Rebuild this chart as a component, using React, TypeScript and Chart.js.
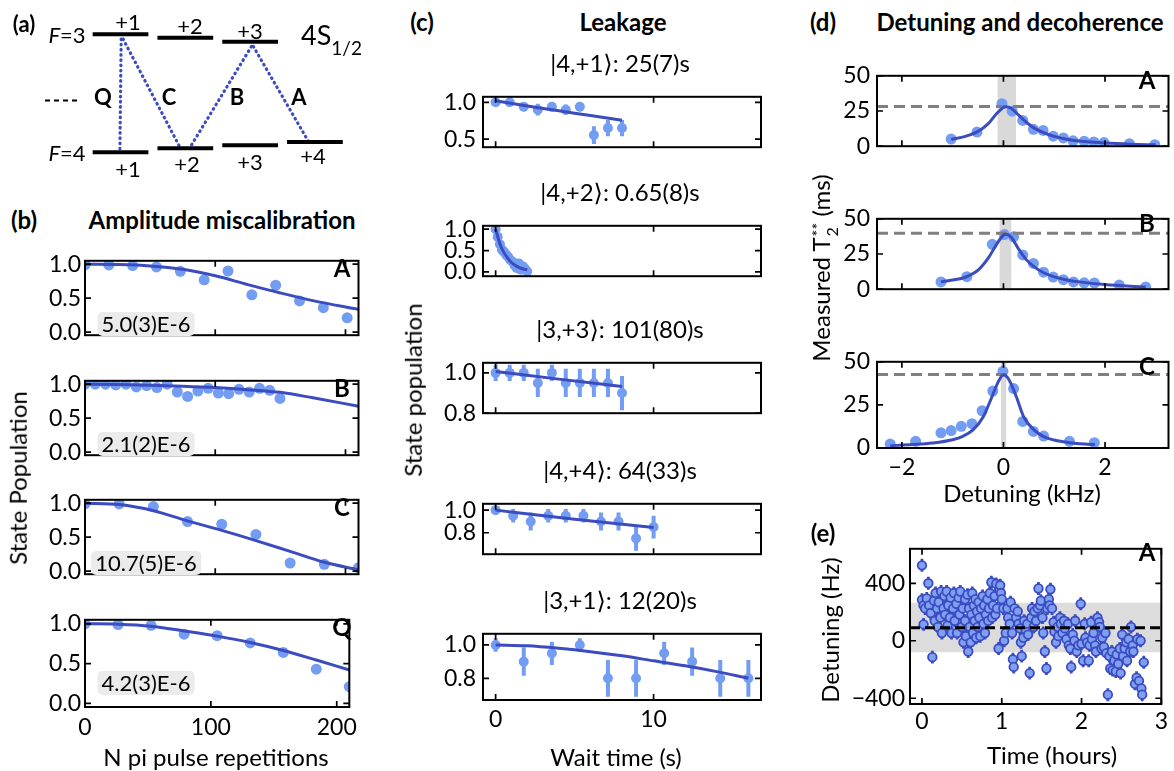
import React, { useEffect, useRef } from 'react';
import { Chart, registerables } from 'chart.js';
Chart.register(...registerables);

const FONT = 'Lato, "DejaVu Sans", sans-serif';
const LIGHT = '#739cf3';
const DARK = '#3b4cc0';
const TICK_SIZE = 23;
const LABEL_SIZE = 24;
const HEAD_SIZE = 24;

// ---------------- (a) level diagram ----------------
const F3_M = [1, 2, 3];
const F3_E = [10.0, 9.71, 9.37];
const F4_M = [1, 2, 3, 4];
const F4_E = [0.0, 0.34, 0.59, 0.87];
const TR_NAMES = ['Q', 'C', 'B', 'A'];
const TR_UP_M = [1, 1, 3, 3];
const TR_LO_M = [1, 2, 2, 4];
const TR_UP_DX = [0.01, 0.04, 0.02, 0.05];
const TR_LO_DX = [-0.01, -0.08, 0.07, -0.1];

// ---------------- (b) amplitude miscalibration ----------------
const B_XTICKS = [0, 100, 200];
const B_XLABELS = ['0', '100', '200'];
const B_YTICKS = [0, 0.5, 1.0];
const B_YLABELS = ['0.0', '0.5', '1.0'];

const BA_X = [0, 18.3, 36.6, 54.9, 73.2, 91.5, 109.8, 128.1, 146.4, 164.7, 183.0, 201.3];
const BA_Y = [0.99, 0.99, 0.98, 0.96, 0.895, 0.77, 0.9, 0.55, 0.69, 0.46, 0.36, 0.21];
const BA_FX = [0, 25, 50, 75, 100, 125, 150, 175, 210];
const BA_FY = [1.0, 0.995, 0.975, 0.925, 0.83, 0.7, 0.577, 0.464, 0.335];

const BB_X = [0, 7.9, 15.8, 23.6, 31.5, 39.4, 47.3, 55.2, 63.0, 70.9, 78.8, 86.7, 94.6, 102.4, 110.3, 118.2, 126.1, 134.0, 141.8, 149.7];
const BB_Y = [1.0, 1.0, 1.0, 0.99, 1.0, 0.96, 0.98, 0.95, 1.0, 0.885, 0.82, 0.9, 0.94, 0.87, 0.86, 0.925, 0.885, 0.94, 0.91, 0.79];
const BB_FX = [0, 25, 50, 75, 100, 125, 150, 175, 210];
const BB_FY = [1.0, 0.995, 0.985, 0.97, 0.95, 0.92, 0.88, 0.8, 0.676];

const BC_X = [0, 26.25, 52.5, 78.75, 105, 131.25, 157.5, 183.75, 210];
const BC_Y = [0.99, 0.99, 0.95, 0.73, 0.69, 0.54, 0.12, 0.1, 0.05];
const BC_FX = [0, 26.25, 52.5, 78.75, 105, 131.25, 157.5, 183.75, 210];
const BC_FY = [1.0, 0.98, 0.89, 0.74, 0.6, 0.45, 0.29, 0.13, 0.02];

const BQ_X = [0, 26.25, 52.5, 78.75, 105, 131.25, 157.5, 183.75, 210];
const BQ_Y = [1.0, 0.99, 0.98, 0.87, 0.85, 0.76, 0.64, 0.43, 0.21];
const BQ_FX = [0, 26.25, 52.5, 78.75, 105, 131.25, 157.5, 183.75, 210];
const BQ_FY = [1.0, 0.995, 0.97, 0.91, 0.845, 0.765, 0.665, 0.545, 0.42];

// ---------------- (c) leakage ----------------
const C_XTICKS = [0, 10];
const C_XLABELS = ['0', '10'];
const C_TITLES = ['|4,+1\u27E9: 25(7)s', '|4,+2\u27E9: 0.65(8)s', '|3,+3\u27E9: 101(80)s', '|4,+4\u27E9: 64(33)s', '|3,+1\u27E9: 12(20)s'];
const C_YTICKS = [[0.5, 1.0], [0.0, 0.5, 1.0], [0.8, 1.0], [0.8, 1.0], [0.8, 1.0]];
const C_YLABELS = [['0.5', '1.0'], ['0.0', '0.5', '1.0'], ['0.8', '1.0'], ['0.8', '1.0'], ['0.8', '1.0']];
const C_YMIN = [0.39, -0.1, 0.8, 0.61, 0.67];
const C_YMAX = [1.075, 1.08, 1.05, 1.056, 1.067];

const C1_X = [0, 0.89, 1.78, 2.67, 3.56, 4.44, 5.33, 6.22, 7.11, 8.0];
const C1_Y = [1.0, 1.0, 0.94, 0.9, 0.94, 0.9, 0.94, 0.555, 0.65, 0.65];
const C1_E = [0.02, 0.02, 0.06, 0.08, 0.065, 0.07, 0.06, 0.12, 0.11, 0.11];
const C1_FX = [0, 2, 4, 6, 8];
const C1_FY = [1.02, 0.95, 0.885, 0.82, 0.755];

const C2_X = [0, 0.13, 0.27, 0.4, 0.53, 0.67, 0.8, 0.93, 1.07, 1.2, 1.33, 1.47, 1.6, 1.73, 1.87, 2.0];
const C2_Y = [1.0, 0.82, 0.65, 0.52, 0.47, 0.4, 0.35, 0.28, 0.24, 0.15, 0.09, 0.2, 0.05, 0.13, 0.07, 0.01];
const C2_E = [0.03, 0.05, 0.05, 0.05, 0.05, 0.05, 0.05, 0.05, 0.05, 0.05, 0.05, 0.05, 0.04, 0.05, 0.04, 0.03];
const C2_FX = [0, 0.25, 0.5, 0.75, 1.0, 1.25, 1.5, 1.75, 2.0];
const C2_FY = [1.0, 0.68, 0.47, 0.33, 0.22, 0.15, 0.1, 0.07, 0.05];

const C3_X = [0, 0.89, 1.78, 2.67, 3.56, 4.44, 5.33, 6.22, 7.11, 8.0];
const C3_Y = [1.0, 1.0, 1.0, 0.95, 1.0, 0.95, 0.95, 0.95, 0.95, 0.9];
const C3_E = [0.04, 0.04, 0.04, 0.07, 0.04, 0.07, 0.07, 0.07, 0.07, 0.085];
const C3_FX = [0, 4, 8];
const C3_FY = [1.007, 0.969, 0.933];

const C4_X = [0, 1.11, 2.22, 3.33, 4.44, 5.56, 6.67, 7.78, 8.89, 10];
const C4_Y = [1.0, 0.95, 0.9, 0.95, 0.95, 0.95, 0.9, 0.9, 0.75, 0.85];
const C4_E = [0.03, 0.06, 0.08, 0.06, 0.06, 0.06, 0.08, 0.08, 0.11, 0.1];
const C4_FX = [0, 5, 10];
const C4_FY = [1.0, 0.92, 0.846];

const C5_X = [0, 1.78, 3.56, 5.33, 7.11, 8.89, 10.67, 12.44, 14.22, 16];
const C5_Y = [1.0, 0.9, 0.95, 1.0, 0.8, 0.8, 0.95, 0.9, 0.8, 0.8];
const C5_E = [0.04, 0.085, 0.07, 0.04, 0.11, 0.11, 0.07, 0.085, 0.11, 0.11];
const C5_FX = [0, 2, 4, 6, 8, 10, 12, 14, 16];
const C5_FY = [1.0, 0.995, 0.98, 0.96, 0.935, 0.905, 0.875, 0.84, 0.8];

// ---------------- (d) detuning and decoherence ----------------
const D_XTICKS = [-2, 0, 2];
const D_XLABELS = ['\u22122', '0', '2'];
const D_YTICKS = [0, 25, 50];
const D_YLABELS = ['0', '25', '50'];

const DA_X = [-1.03, -0.52, -0.03, 0.17, 0.38, 0.59, 0.78, 0.98, 1.18, 1.37, 1.59, 1.78, 1.98, 2.48, 2.98];
const DA_Y = [5.1, 10.0, 30.2, 24.9, 18.3, 12.0, 11.2, 7.1, 5.9, 3.8, 3.5, 3.0, 2.6, 1.8, 1.1];
const DA_FX = [-1.03, -0.75, -0.5, -0.3, -0.15, 0, 0.05, 0.15, 0.3, 0.45, 0.6, 0.8, 1.0, 1.3, 1.6, 2.0, 2.5, 3.0];
const DA_FY = [4.8, 7.0, 10.5, 16, 22.5, 27.5, 28, 27, 22, 17, 13, 9.5, 7.0, 4.6, 3.3, 2.2, 1.4, 1.0];
const DA_BAND = [-0.12, 0.25];
const DA_T2 = 28.2;

const DB_X = [-1.23, -0.72, -0.22, 0.02, 0.2, 0.38, 0.59, 0.79, 0.98, 1.18, 1.38, 1.59, 1.79, 2.28, 2.8];
const DB_Y = [5.2, 8.9, 31.9, 38.8, 37.2, 24.3, 18.3, 12.1, 8.6, 6.8, 5.2, 4.5, 4.4, 2.9, 1.6];
const DB_FX = [-1.23, -1.0, -0.75, -0.5, -0.3, -0.15, 0, 0.05, 0.15, 0.3, 0.45, 0.6, 0.8, 1.0, 1.25, 1.5, 2.0, 2.5, 2.8];
const DB_FY = [5.2, 6.5, 8.5, 13.5, 22, 31, 38.5, 39, 37, 28.5, 21, 16, 11.5, 8.8, 6.6, 5.2, 3.3, 2.1, 1.6];
const DB_BAND = [-0.08, 0.16];
const DB_T2 = 39.8;

const DC_X = [-2.23, -1.73, -1.23, -1.03, -0.83, -0.62, -0.42, -0.21, -0.01, 0.2, 0.38, 0.59, 0.79, 1.3, 1.79];
const DC_Y = [2.3, 3.9, 8.8, 10.1, 12.6, 14.1, 21.6, 33.0, 44.5, 34.5, 15.4, 9.6, 6.9, 3.9, 3.1];
const DC_FX = [-2.23, -1.8, -1.4, -1.0, -0.8, -0.6, -0.4, -0.25, -0.1, 0, 0.1, 0.25, 0.4, 0.6, 0.8, 1.0, 1.3, 1.6, 1.8];
const DC_FY = [1.3, 2.0, 2.9, 4.8, 6.8, 10.5, 18, 28, 38.5, 42.5, 40, 30, 18, 10.5, 6.5, 4.6, 3.1, 2.3, 2.0];
const DC_BAND = [-0.05, 0.06];
const DC_T2 = 42.6;

// ---------------- (e) detuning drift ----------------
const E_XTICKS = [0, 1, 2, 3];
const E_XLABELS = ['0', '1', '2', '3'];
const E_YTICKS = [-400, 0, 400];
const E_YLABELS = ['\u2212400', '0', '400'];
const E_MEAN = 90;
const E_BAND = [-80, 265];
const E_ERR = 45;
const E_T = [
  0.0, 0.0, 0.02, 0.04, 0.02, 0.06, 0.08, 0.09, 0.11, 0.13, 0.15, 0.16, 0.17, 0.19, 0.2,
  0.21, 0.23, 0.24, 0.25, 0.27, 0.28, 0.29, 0.31, 0.32, 0.33, 0.35, 0.36, 0.37, 0.39, 0.4, 0.41, 0.43, 0.44, 0.46, 0.47, 0.48, 0.5,
  0.51, 0.52, 0.54, 0.54, 0.55, 0.57, 0.58, 0.59, 0.6, 0.61, 0.62, 0.63, 0.64, 0.65, 0.66, 0.67, 0.68, 0.69, 0.7, 0.71, 0.72, 0.73, 0.74, 0.76, 0.77, 0.78, 0.79, 0.8, 0.82, 0.83, 0.84, 0.85, 0.87, 0.88, 0.89, 0.91, 0.92,
  0.93, 0.94, 0.96, 0.97, 0.98, 0.99, 1.0, 1.02, 1.03, 1.05, 1.07, 1.08, 1.1, 1.11, 1.13, 1.14, 1.15, 1.16, 1.18, 1.2, 1.21, 1.23, 1.24, 1.25, 1.27, 1.28,
  1.3, 1.32, 1.33, 1.35, 1.37, 1.38, 1.4, 1.41, 1.43, 1.45, 1.46, 1.48, 1.49, 1.51, 1.52, 1.54, 1.56, 1.57, 1.59, 1.6, 1.61, 1.63, 1.65, 1.66,
  1.68, 1.7, 1.71, 1.73, 1.74, 1.76, 1.78, 1.79, 1.81, 1.83, 1.84, 1.86, 1.87, 1.89, 1.91, 1.92, 1.94, 1.96, 1.99, 2.0, 2.02, 2.04, 2.05, 2.07,
  2.09, 2.1, 2.12, 2.13, 2.15, 2.17, 2.18, 2.2, 2.22, 2.23, 2.25, 2.26, 2.28, 2.3, 2.31, 2.33, 2.35, 2.36, 2.38, 2.39, 2.41, 2.43, 2.44, 2.46, 2.48, 2.49,
  2.51, 2.52, 2.54, 2.56, 2.57, 2.59, 2.61, 2.62, 2.64, 2.65, 2.67, 2.69, 2.7, 2.72, 2.74, 2.75, 2.76, 2.78,
];
const E_V = [
  525, 285, 246, 225, 114, 294, 400, 246, 193, -114, 279, 139, 332, 225, 96,
  268, 161, 343, 54, 225, 311, 182, 343, 107, 246, 161, 300, 54, 225, 332, 139, 257, 54, 300, 182, 343, 96,
  225, -11, 289, 139, 32, 321, -75, 225, 96, -11, 182, 332, 54, 246, 139, 289, 21, 204, 96, 268, 161, 32, 225, 311, 118, 246, 54, 182, 289, 139, 225, 332, 407, 161, 246, 311, 182,
  396, 225, -54, 354, 386, 332, 289, 225, 0, 54, 225, 161, 118, 268, 54, -129, -182, 225, 161, 204, 118, 86, -11, -107, 21, 139,
  75, 118, 43, -225, 161, 225, 96, 204, 139, 225, 364, 246, 279, 161, 54, -75, -193, 225, 289, 246, 358, 225, 129, 64,
  -11, 96, 32, 161, 118, 54, 139, 86, 11, 118, -32, -54, -182, 43, 0, 139, -75, -32, 257, -21, -139, 118, 21, -11,
  -139, -32, 129, 11, 54, -32, -75, 161, 129, 96, -54, 21, -43, 54, -86, -375, -107, -193, -75, -204, -139, -214, -96, -161, -54, -225,
  43, -107, -54, -11, -139, 11, -75, 96, -32, -75, -300, -257, 11, -279, 0, -332, -375, -150,
];

// ---------------- helpers ----------------
type Ax = { min: number; max: number; ticks: number[]; labels: string[] | null };
type M = { l: number; b: number; r: number; t: number };

const pts = (xs: number[], ys: number[]) => xs.map((x, i) => ({ x, y: ys[i] }));

function scatterDs(xs: number[], ys: number[], color: string, r: number, edge?: string) {
  return {
    type: 'scatter', data: pts(xs, ys), pointRadius: r, pointHoverRadius: r,
    pointBackgroundColor: color, pointBorderColor: edge || color, pointBorderWidth: edge ? 1.8 : 0,
    showLine: false, clip: 0,
  };
}
function lineDs(xs: number[], ys: number[], color: string, w: number, dash?: number[]) {
  return {
    type: 'line', data: pts(xs, ys), borderColor: color, borderWidth: w, pointRadius: 0,
    cubicInterpolationMode: 'monotone', fill: false, borderDash: dash || [], clip: 0,
  };
}
function errDs(xs: number[], ys: number[], es: number[] | number, color: string, w: number) {
  const data: any[] = [];
  xs.forEach((x, i) => {
    const e = Array.isArray(es) ? es[i] : es;
    data.push({ x, y: ys[i] - e }, { x, y: ys[i] + e }, { x, y: null });
  });
  return { type: 'line', data, borderColor: color, borderWidth: w, pointRadius: 0, spanGaps: false, fill: false, clip: 0 };
}
function vBandDs(band: number[], top: number, color: string) {
  return {
    type: 'line', data: [{ x: band[0], y: top }, { x: band[1], y: top }], borderWidth: 0,
    pointRadius: 0, fill: 'origin', backgroundColor: color, clip: 0,
  };
}

const framePlugin = {
  id: 'frame',
  afterDatasetsDraw(chart: any) {
    const { ctx, chartArea: a } = chart;
    const sx = chart.scales.x, sy = chart.scales.y;
    const L = 6;
    ctx.save();
    ctx.strokeStyle = '#000';
    ctx.lineWidth = 1.7;
    ctx.beginPath();
    sx.ticks.forEach((t: any) => {
      const p = sx.getPixelForValue(t.value);
      if (p < a.left - 0.5 || p > a.right + 0.5) return;
      ctx.moveTo(p, a.bottom); ctx.lineTo(p, a.bottom - L);
      ctx.moveTo(p, a.top); ctx.lineTo(p, a.top + L);
    });
    sy.ticks.forEach((t: any) => {
      const p = sy.getPixelForValue(t.value);
      if (p < a.top - 0.5 || p > a.bottom + 0.5) return;
      ctx.moveTo(a.left, p); ctx.lineTo(a.left + L, p);
      ctx.moveTo(a.right, p); ctx.lineTo(a.right - L, p);
    });
    ctx.stroke();
    ctx.lineWidth = 2;
    ctx.strokeRect(a.left, a.top, a.right - a.left, a.bottom - a.top);
    ctx.restore();
  },
};

function axis(a: Ax, horiz: boolean, size: number, pad: number) {
  return {
    type: 'linear',
    position: horiz ? 'bottom' : 'left',
    min: a.min, max: a.max, bounds: 'data',
    afterBuildTicks: (s: any) => { s.ticks = a.ticks.map((v) => ({ value: v })); },
    afterFit: (s: any) => { if (horiz) s.height = size; else s.width = size; },
    grid: { display: false, drawTicks: false },
    border: { display: false },
    ticks: {
      display: !!a.labels, padding: pad, autoSkip: false, maxRotation: 0, minRotation: 0,
      color: '#000', font: { family: FONT, size: TICK_SIZE },
      callback: (v: number) => {
        const k = a.ticks.indexOf(v);
        return a.labels && k >= 0 ? a.labels[k] : '';
      },
    },
  };
}

function cfg(datasets: any[], xa: Ax, ya: Ax, m: M, xpad = 6, ypad = 5) {
  return {
    type: 'scatter',
    data: { datasets },
    options: {
      responsive: false, animation: false, devicePixelRatio: 1, events: [],
      layout: { padding: { left: 0, right: m.r, top: m.t, bottom: 0 } },
      plugins: { legend: { display: false }, tooltip: { enabled: false } },
      scales: { x: axis(xa, true, m.b, xpad), y: axis(ya, false, m.l, ypad) },
    },
    plugins: [framePlugin],
  };
}

function Plot(props: { x: number; y: number; w: number; h: number; ml: number; mb: number; make: (m: M) => any }) {
  const ref = useRef<HTMLCanvasElement>(null);
  const mr = 5, mt = 5;
  const W = props.w + props.ml + mr, H = props.h + mt + props.mb;
  useEffect(() => {
    const chart = new Chart(ref.current as HTMLCanvasElement, props.make({ l: props.ml, b: props.mb, r: mr, t: mt }));
    return () => chart.destroy();
  }, []);
  return (
    <canvas ref={ref} width={W} height={H}
      style={{ position: 'absolute', left: props.x - props.ml, top: props.y - mt, width: W, height: H }} />
  );
}

function Txt(p: { x: number; y: number; s?: number; b?: boolean; i?: boolean; rot?: boolean; box?: boolean; children: any }) {
  return (
    <div style={{
      position: 'absolute', left: p.x, top: p.y,
      transform: `translate(-50%, -50%)${p.rot ? ' rotate(-90deg)' : ''}`,
      fontSize: p.s || LABEL_SIZE, fontWeight: p.b ? 700 : 400, fontStyle: p.i ? 'italic' : 'normal',
      whiteSpace: 'nowrap', lineHeight: 1.1,
      background: p.box ? '#ebebeb' : 'transparent', padding: p.box ? '0px 4px' : 0,
      borderRadius: p.box ? 5 : 0,
    }}>{p.children}</div>
  );
}

// ---------------- (a) diagram chart ----------------
function Diagram() {
  const ref = useRef<HTMLCanvasElement>(null);
  useEffect(() => {
    const HALF = 0.43;
    const ds: any[] = [];
    F3_M.forEach((m, i) => ds.push(lineDs([m - HALF, m + HALF], [F3_E[i], F3_E[i]], '#000', 4)));
    F4_M.forEach((m, i) => ds.push(lineDs([m - HALF, m + HALF], [F4_E[i], F4_E[i]], '#000', 4)));
    TR_NAMES.forEach((_, k) => {
      const up = TR_UP_M[k], lo = TR_LO_M[k];
      const eUp = F3_E[F3_M.indexOf(up)] - 0.4;
      const eLo = F4_E[F4_M.indexOf(lo)] + 0.05;
      ds.push({
        type: 'line', data: [{ x: up + TR_UP_DX[k], y: eUp }, { x: lo + TR_LO_DX[k], y: eLo }],
        borderColor: DARK, borderWidth: 3.2, borderDash: [0.6, 4.6], borderCapStyle: 'round',
        pointRadius: 0, fill: false,
      });
    });
    ds.push({ type: 'line', data: [{ x: -0.165, y: 4.4 }, { x: 0.375, y: 4.4 }], borderColor: '#000', borderWidth: 2, borderDash: [5, 4], pointRadius: 0 });
    const chart = new Chart(ref.current as HTMLCanvasElement, {
      type: 'scatter',
      data: { datasets: ds },
      options: {
        responsive: false, animation: false, devicePixelRatio: 1, events: [],
        layout: { padding: 0 },
        plugins: { legend: { display: false }, tooltip: { enabled: false } },
        scales: {
          x: { type: 'linear', display: false, min: -0.86, max: 4.85 },
          y: { type: 'linear', display: false, min: -2.35, max: 12.91 },
        },
      },
    } as any);
    return () => chart.destroy();
  }, []);
  return <canvas ref={ref} width={370} height={180} style={{ position: 'absolute', left: 0, top: 0, width: 370, height: 180 }} />;
}

// ---------------- App ----------------
export default function App() {
  const bX = (labels: boolean): Ax => ({ min: 0, max: 210, ticks: B_XTICKS, labels: labels ? B_XLABELS : null });
  const bY: Ax = { min: -0.045, max: 1.05, ticks: B_YTICKS, labels: B_YLABELS };
  const bPanels = [
    { xs: BA_X, ys: BA_Y, fx: BA_FX, fy: BA_FY, top: 248, tag: 'A', note: '5.0(3)E-6' },
    { xs: BB_X, ys: BB_Y, fx: BB_FX, fy: BB_FY, top: 368, tag: 'B', note: '2.1(2)E-6' },
    { xs: BC_X, ys: BC_Y, fx: BC_FX, fy: BC_FY, top: 487, tag: 'C', note: '10.7(5)E-6' },
    { xs: BQ_X, ys: BQ_Y, fx: BQ_FX, fy: BQ_FY, top: 607, tag: 'Q', note: '4.2(3)E-6' },
  ];
  const cData = [
    [C1_X, C1_Y, C1_E, C1_FX, C1_FY],
    [C2_X, C2_Y, C2_E, C2_FX, C2_FY],
    [C3_X, C3_Y, C3_E, C3_FX, C3_FY],
    [C4_X, C4_Y, C4_E, C4_FX, C4_FY],
    [C5_X, C5_Y, C5_E, C5_FX, C5_FY],
  ];
  const cTops = [81, 210, 347, 488, 618];
  const dPanels = [
    { xs: DA_X, ys: DA_Y, fx: DA_FX, fy: DA_FY, band: DA_BAND, t2: DA_T2, top: 60, tag: 'A' },
    { xs: DB_X, ys: DB_Y, fx: DB_FX, fy: DB_FY, band: DB_BAND, t2: DB_T2, top: 203, tag: 'B' },
    { xs: DC_X, ys: DC_Y, fx: DC_FX, fy: DC_FY, band: DC_BAND, t2: DC_T2, top: 346, tag: 'C' },
  ];
  const dXmin = -2.49, dXmax = 3.25;
  const eXmin = -0.15, eXmax = 3.0;

  return (
    <div style={{ position: 'absolute', left: 0, top: 0, width: 1174, height: 771, background: '#fff', fontFamily: FONT, color: '#000', overflow: 'hidden' }}>
      <Diagram />

      {bPanels.map((p, k) => (
        <Plot key={'b' + k} x={85} y={p.top} w={274} h={100} ml={70} mb={k === 3 ? 36 : 5}
          make={(m) => cfg([
            lineDs(p.fx, p.fy, DARK, 3),
            scatterDs(p.xs, p.ys, LIGHT, 5.5),
          ], bX(k === 3), bY, m, 7, 4)} />
      ))}

      {cData.map((d, k) => (
        <Plot key={'c' + k} x={483} y={cTops[k]} w={278} h={82} ml={70} mb={k === 4 ? 36 : 5}
          make={(m) => cfg([
            lineDs(d[3], d[4], DARK, 3),
            scatterDs(d[0], d[1], LIGHT, 5),
            errDs(d[0], d[1], d[2], LIGHT, 4),
          ], { min: -0.8, max: 16.8, ticks: C_XTICKS, labels: k === 4 ? C_XLABELS : null },
            { min: C_YMIN[k], max: C_YMAX[k], ticks: C_YTICKS[k], labels: C_YLABELS[k] }, m, 6, 7)} />
      ))}

      {dPanels.map((p, k) => (
        <Plot key={'d' + k} x={877} y={p.top} w={292} h={102} ml={60} mb={k === 2 ? 36 : 5}
          make={(m) => cfg([
            lineDs(p.fx, p.fy, DARK, 3),
            lineDs([dXmin, dXmax], [p.t2, p.t2], '#808080', 3, [11, 6]),
            scatterDs(p.xs, p.ys, LIGHT, 5.5),
            vBandDs(p.band, 50, '#d9d9d9'),
          ], { min: dXmin, max: dXmax, ticks: D_XTICKS, labels: k === 2 ? D_XLABELS : null },
            { min: 0, max: 50, ticks: D_YTICKS, labels: D_YLABELS }, m, 6, 7)} />
      ))}

      <Plot x={910} y={535} w={257} h={169} ml={60} mb={36}
        make={(m) => cfg([
          lineDs([eXmin, eXmax], [E_MEAN, E_MEAN], '#000', 3, [10, 5]),
          scatterDs(E_T, E_V, '#7f9ff2', 4.3, DARK),
          errDs(E_T, E_V, E_ERR, DARK, 2.8),
          { type: 'line', data: [{ x: eXmin, y: E_BAND[1] }, { x: eXmax, y: E_BAND[1] }], borderWidth: 0, pointRadius: 0, fill: { value: E_BAND[0] }, backgroundColor: '#dcdcdc' },
        ], { min: eXmin, max: eXmax, ticks: E_XTICKS, labels: E_XLABELS },
          { min: -440, max: 640, ticks: E_YTICKS, labels: E_YLABELS }, m, 4, 5)} />

      {/* (a) texts */}
      <Txt x={24} y={24} b s={22}>(a)</Txt>
      <Txt x={67} y={35} s={22}><i>F</i>=3</Txt>
      <Txt x={67} y={153} s={22}><i>F</i>=4</Txt>
      <Txt x={128} y={22} s={22}>+1</Txt>
      <Txt x={190} y={26} s={22}>+2</Txt>
      <Txt x={250} y={31} s={22}>+3</Txt>
      <Txt x={128} y={169} s={22}>+1</Txt>
      <Txt x={187} y={164} s={22}>+2</Txt>
      <Txt x={250} y={162} s={22}>+3</Txt>
      <Txt x={313} y={156} s={22}>+4</Txt>
      {TR_NAMES.map((n, k) => (
        <Txt key={n} x={[103, 169, 237, 299][k]} y={97} b s={22}>{n}</Txt>
      ))}
      <div style={{ position: 'absolute', left: 301, top: 21, fontSize: 27, lineHeight: 1, whiteSpace: 'nowrap' }}>
        4S<span style={{ fontSize: 19, position: 'relative', top: 10 }}>1/2</span>
      </div>

      {/* (b) texts */}
      <Txt x={24} y={220} b s={HEAD_SIZE}>(b)</Txt>
      <Txt x={222} y={220} b s={HEAD_SIZE}>Amplitude miscalibration</Txt>
      {bPanels.map((p, k) => (
        <React.Fragment key={'bt' + k}>
          <Txt x={342} y={p.top + 20} b s={HEAD_SIZE}>{p.tag}</Txt>
          <Txt x={146} y={p.top + 76} box s={22}>{p.note}</Txt>
        </React.Fragment>
      ))}
      <Txt x={18} y={478} rot>State Population</Txt>
      <Txt x={216} y={757}>N pi pulse repetitions</Txt>

      {/* (c) texts */}
      <Txt x={422} y={22} b s={HEAD_SIZE}>(c)</Txt>
      <Txt x={623} y={22} b s={HEAD_SIZE}>Leakage</Txt>
      {C_TITLES.map((t, k) => (
        <Txt key={'ct' + k} x={620} y={cTops[k] - 18} s={24}>{t}</Txt>
      ))}
      <Txt x={413} y={390} rot>State population</Txt>
      <Txt x={616} y={757}>Wait time (s)</Txt>

      {/* (d) texts */}
      <Txt x={823} y={22} b s={HEAD_SIZE}>(d)</Txt>
      <Txt x={1020} y={22} b s={HEAD_SIZE}>Detuning and decoherence</Txt>
      {dPanels.map((p, k) => (
        <Txt key={'dt' + k} x={1147} y={p.top + 20} b s={HEAD_SIZE}>{p.tag}</Txt>
      ))}
      <Txt x={824} y={268} rot>
        Measured T
        <span style={{ display: 'inline-flex', flexDirection: 'column', verticalAlign: 'middle', fontSize: 16, lineHeight: 0.95, marginLeft: 1 }}>
          <span>**</span><span>2</span>
        </span>
        {' '}(ms)
      </Txt>
      <Txt x={1022} y={493}>Detuning (kHz)</Txt>

      {/* (e) texts */}
      <Txt x={823} y={533} b s={HEAD_SIZE}>(e)</Txt>
      <Txt x={1147} y={552} b s={HEAD_SIZE}>A</Txt>
      <Txt x={830} y={630} rot>Detuning (Hz)</Txt>
      <Txt x={1052} y={755}>Time (hours)</Txt>
    </div>
  );
}
